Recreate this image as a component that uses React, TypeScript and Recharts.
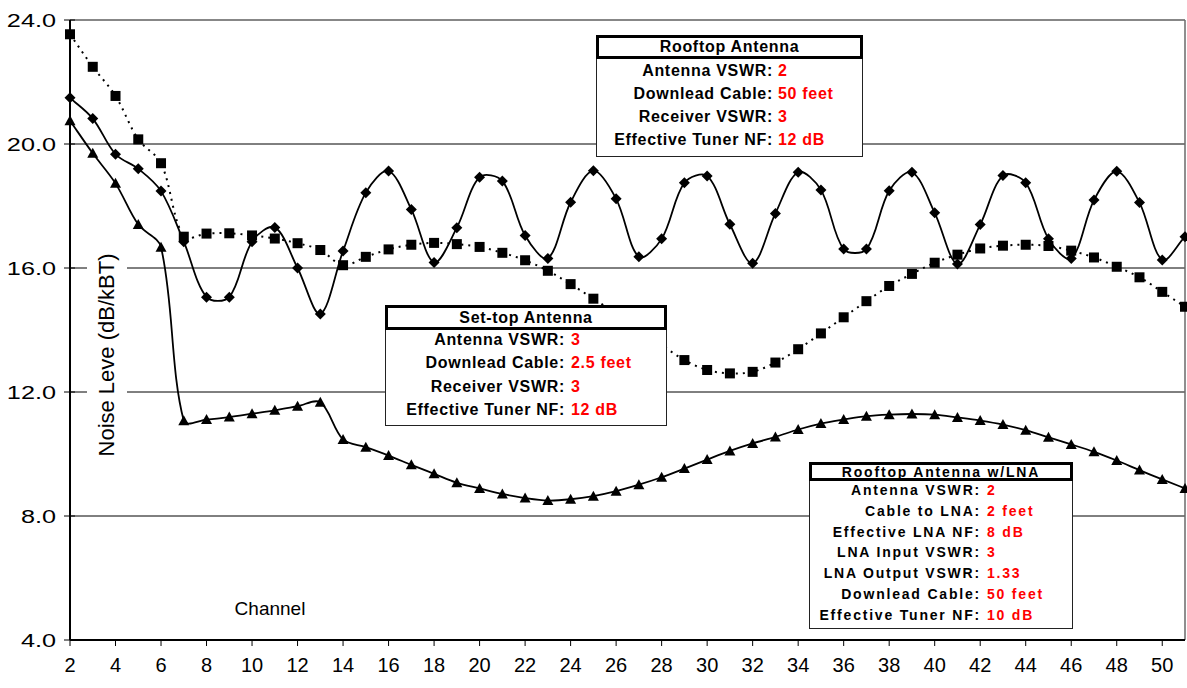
import React from 'react';
import { LineChart, Line, XAxis, YAxis, CartesianGrid, ReferenceLine } from 'recharts';

// channel numbers on the x axis
const channels = [
  2, 3, 4, 5, 6, 7, 8, 9, 10, 11, 12, 13, 14, 15, 16, 17, 18, 19, 20, 21, 22, 23, 24, 25, 26,
  27, 28, 29, 30, 31, 32, 33, 34, 35, 36, 37, 38, 39, 40, 41, 42, 43, 44, 45, 46, 47, 48, 49, 50, 51,
];

// rooftop antenna (diamonds)
const rooftop = [
  21.49, 20.82, 19.67, 19.2, 18.48, 16.85, 15.06, 15.06, 16.85, 17.31, 16.0, 14.52, 16.55, 18.43,
  19.13, 17.89, 16.18, 17.3, 18.93, 18.81, 17.05, 16.31, 18.12, 19.14, 18.23, 16.36, 16.94, 18.75,
  18.97, 17.41, 16.15, 17.76, 19.09, 18.52, 16.61, 16.61, 18.49, 19.09, 17.78, 16.13, 17.4, 18.98,
  18.75, 16.94, 16.31, 18.19, 19.12, 18.11, 16.26, 17.01,
];

// set-top antenna (squares, dotted)
const setTop = [
  23.54, 22.49, 21.55, 20.15, 19.38, 17.01, 17.11, 17.12, 17.05, 16.95, 16.8, 16.58, 16.09, 16.36,
  16.6, 16.75, 16.81, 16.77, 16.68, 16.49, 16.25, 15.91, 15.48, 15.01, 14.53, 14.03, 13.52, 13.03,
  12.71, 12.6, 12.65, 12.95, 13.38, 13.89, 14.41, 14.93, 15.42, 15.81, 16.17, 16.43, 16.63, 16.72,
  16.75, 16.71, 16.56, 16.34, 16.04, 15.7, 15.23, 14.75,
];

// rooftop antenna with LNA (triangles)
const withLna = [
  20.75, 19.7, 18.73, 17.4, 16.67, 11.07, 11.11, 11.19, 11.3, 11.41, 11.54, 11.67, 10.47, 10.22,
  9.95, 9.65, 9.36, 9.07, 8.89, 8.71, 8.58, 8.5, 8.54, 8.64, 8.8, 9.01, 9.25, 9.53, 9.82, 10.1,
  10.34, 10.55, 10.79, 10.98, 11.11, 11.22, 11.27, 11.29, 11.27, 11.18, 11.08, 10.95, 10.77, 10.54,
  10.31, 10.07, 9.79, 9.48, 9.18, 8.89,
];

const xTicks = [2, 4, 6, 8, 10, 12, 14, 16, 18, 20, 22, 24, 26, 28, 30, 32, 34, 36, 38, 40, 42, 44, 46, 48, 50];
const yTicks = [4, 8, 12, 16, 20, 24];

const rooftopInfo: [string, string][] = [
  ['Antenna VSWR:', '2'],
  ['Downlead Cable:', '50 feet'],
  ['Receiver VSWR:', '3'],
  ['Effective Tuner NF:', '12 dB'],
];
const setTopInfo: [string, string][] = [
  ['Antenna VSWR:', '3'],
  ['Downlead Cable:', '2.5 feet'],
  ['Receiver VSWR:', '3'],
  ['Effective Tuner NF:', '12 dB'],
];
const lnaInfo: [string, string][] = [
  ['Antenna VSWR:', '2'],
  ['Cable to LNA:', '2 feet'],
  ['Effective LNA NF:', '8 dB'],
  ['LNA Input VSWR:', '3'],
  ['LNA Output VSWR:', '1.33'],
  ['Downlead Cable:', '50 feet'],
  ['Effective Tuner NF:', '10 dB'],
];

const data = channels.map((ch, i) => ({
  ch,
  rooftop: rooftop[i],
  setTop: setTop[i],
  withLna: withLna[i],
}));

const FONT = '"Liberation Sans", Arial, sans-serif';

// excel-like smoothing: bezier handles scaled by neighbour segment lengths
function excelCurve(context: any) {
  let pts: number[][] = [];
  const dist = (a: number[], b: number[]) => Math.hypot(b[0] - a[0], b[1] - a[1]);
  return {
    areaStart() {},
    areaEnd() {},
    lineStart() {
      pts = [];
    },
    point(x: number, y: number) {
      pts.push([+x, +y]);
    },
    lineEnd() {
      const n = pts.length;
      if (!n) return;
      context.moveTo(pts[0][0], pts[0][1]);
      for (let i = 0; i < n - 1; i++) {
        const p0 = pts[i - 1] || pts[i];
        const p1 = pts[i];
        const p2 = pts[i + 1];
        const p3 = pts[i + 2] || p2;
        const a1 = dist(p0, p1);
        const b1 = dist(p1, p2);
        const f1 = a1 + b1 > 0 ? b1 / (a1 + b1) / 3 : 0;
        const a2 = dist(p1, p2);
        const b2 = dist(p2, p3);
        const f2 = a2 + b2 > 0 ? a2 / (a2 + b2) / 3 : 0;
        context.bezierCurveTo(
          p1[0] + (p2[0] - p0[0]) * f1,
          p1[1] + (p2[1] - p0[1]) * f1,
          p2[0] - (p3[0] - p1[0]) * f2,
          p2[1] - (p3[1] - p1[1]) * f2,
          p2[0],
          p2[1],
        );
      }
    },
  };
}

const Diamond = (props: any) => {
  const { cx, cy, index } = props;
  const r = 5.5;
  return <path key={`d${index}`} d={`M${cx},${cy - r}L${cx + r},${cy}L${cx},${cy + r}L${cx - r},${cy}Z`} fill="#000" />;
};

const Square = (props: any) => {
  const { cx, cy, index } = props;
  return <rect key={`s${index}`} x={cx - 5} y={cy - 5} width={10} height={10} fill="#000" />;
};

const Triangle = (props: any) => {
  const { cx, cy, index } = props;
  return <path key={`t${index}`} d={`M${cx},${cy - 5.5}L${cx + 5.5},${cy + 4.5}L${cx - 5.5},${cy + 4.5}Z`} fill="#000" />;
};

const YTick = (props: any) => {
  const { x, y, payload } = props;
  const axisX = x + 14;
  return (
    <g>
      <line x1={axisX - 6} x2={axisX + 5} y1={y} y2={y} stroke="#000" strokeWidth={1} />
      <text
        transform={`translate(${x},${y}) scale(1.33,1)`}
        x={0}
        y={0}
        dy={7}
        textAnchor="end"
        fontSize={19}
        fontFamily={FONT}
        fill="#000"
      >
        {Number(payload.value).toFixed(1)}
      </text>
    </g>
  );
};

interface InfoBoxProps {
  left: number;
  top: number;
  width: number;
  titleH: number;
  bodyH: number;
  rowH: number;
  padTop: number;
  labelW: number;
  gap: number;
  fontSize: number;
  spacing: number;
  title: string;
  rows: [string, string][];
}

function InfoBox(p: InfoBoxProps) {
  return (
    <div
      style={{
        position: 'absolute',
        left: p.left,
        top: p.top,
        width: p.width,
        fontFamily: FONT,
        fontWeight: 'bold',
        fontSize: p.fontSize,
        letterSpacing: p.spacing,
        color: '#000',
      }}
    >
      <div
        style={{
          height: p.titleH,
          border: '3px solid #000',
          boxSizing: 'border-box',
          background: '#fff',
          display: 'flex',
          alignItems: 'center',
          justifyContent: 'center',
        }}
      >
        {p.title}
      </div>
      <div
        style={{
          height: p.bodyH,
          border: '1px solid #222',
          borderTop: 'none',
          boxSizing: 'border-box',
          background: '#fff',
          overflow: 'hidden',
        }}
      >
        <div style={{ position: 'relative', top: p.padTop }}>
          {p.rows.map(([label, value]) => (
            <div key={label} style={{ display: 'flex', alignItems: 'center', height: p.rowH, whiteSpace: 'nowrap' }}>
              <span style={{ width: p.labelW, textAlign: 'right', flex: 'none' }}>{label}</span>
              <span style={{ marginLeft: p.gap, color: '#ff0000' }}>{value}</span>
            </div>
          ))}
        </div>
      </div>
    </div>
  );
}

export default function App() {
  return (
    <div style={{ position: 'absolute', left: 0, top: 0, width: 1187, height: 688, background: '#fff' }}>
      <LineChart width={1187} height={688} data={data} margin={{ top: 20, right: 2, bottom: 0, left: 0 }}>
        <CartesianGrid vertical={false} stroke="#000" strokeWidth={1} />
        <ReferenceLine y={24} stroke="#8a8a8a" strokeWidth={1.5} />
        <ReferenceLine x={51} stroke="#6a6a6a" strokeWidth={1.5} />
        <XAxis
          dataKey="ch"
          type="number"
          domain={[2, 51]}
          ticks={xTicks}
          interval={0}
          height={48}
          tickSize={6}
          tickMargin={12}
          axisLine={{ stroke: '#000', strokeWidth: 2 }}
          tickLine={{ stroke: '#000' }}
          tick={{ fill: '#000', fontSize: 20, fontFamily: FONT }}
        />
        <YAxis
          type="number"
          domain={[4, 24]}
          ticks={yTicks}
          interval={0}
          width={70}
          tickSize={6}
          tickMargin={8}
          axisLine={{ stroke: '#000', strokeWidth: 2 }}
          tickLine={false}
          tick={YTick}
        />
        <Line
          dataKey="setTop"
          type={excelCurve as any}
          stroke="#000"
          strokeWidth={2}
          strokeDasharray="2 5"
          dot={Square}
          activeDot={false}
          isAnimationActive={false}
        />
        <Line
          dataKey="rooftop"
          type={excelCurve as any}
          stroke="#000"
          strokeWidth={1.8}
          dot={Diamond}
          activeDot={false}
          isAnimationActive={false}
        />
        <Line
          dataKey="withLna"
          type={excelCurve as any}
          stroke="#000"
          strokeWidth={1.8}
          dot={Triangle}
          activeDot={false}
          isAnimationActive={false}
        />
      </LineChart>

      <div
        style={{
          position: 'absolute',
          left: 107,
          top: 355,
          width: 240,
          height: 40,
          transform: 'translate(-50%, -50%) rotate(-90deg)',
          background: '#fff',
          display: 'flex',
          alignItems: 'center',
          justifyContent: 'center',
          fontFamily: FONT,
          fontSize: 22,
          color: '#000',
          whiteSpace: 'nowrap',
        }}
      >
        Noise Leve (dB/kBT)
      </div>
      <div
        style={{
          position: 'absolute',
          left: 270,
          top: 609,
          transform: 'translate(-50%, -50%)',
          fontFamily: FONT,
          fontSize: 19,
          color: '#000',
          whiteSpace: 'nowrap',
        }}
      >
        Channel
      </div>

      <InfoBox
        left={596}
        top={35}
        width={267}
        titleH={24}
        bodyH={98}
        rowH={23}
        padTop={0}
        labelW={176}
        gap={5}
        fontSize={16}
        spacing={0.7}
        title="Rooftop Antenna"
        rows={rooftopInfo}
      />
      <InfoBox
        left={385}
        top={305}
        width={282}
        titleH={25}
        bodyH={96}
        rowH={23.3}
        padTop={-1.5}
        labelW={179}
        gap={6}
        fontSize={16}
        spacing={0.7}
        title="Set-top Antenna"
        rows={setTopInfo}
      />
      <InfoBox
        left={809}
        top={462}
        width={264}
        titleH={19}
        bodyH={148}
        rowH={20.8}
        padTop={-1.4}
        labelW={171}
        gap={6}
        fontSize={14}
        spacing={1.8}
        title="Rooftop Antenna w/LNA"
        rows={lnaInfo}
      />
    </div>
  );
}
